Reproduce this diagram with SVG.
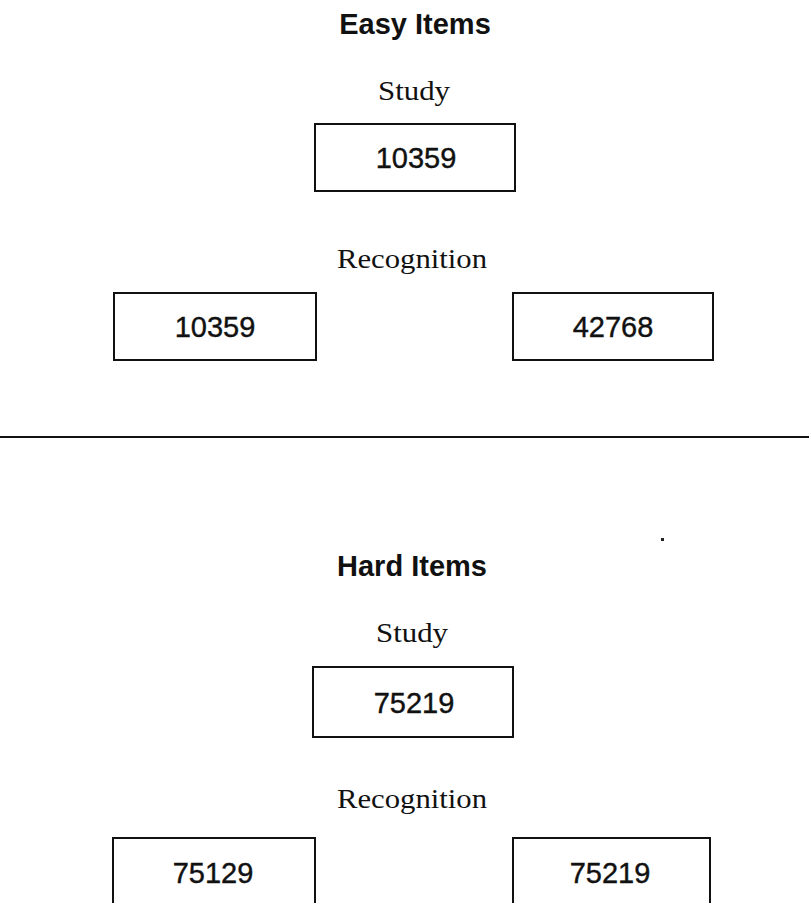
<svg xmlns="http://www.w3.org/2000/svg" width="809" height="903" viewBox="0 0 809 903">
<style>
.head{font-family:"Liberation Sans",Arial,sans-serif;font-weight:bold;font-size:29px;fill:#111;text-anchor:middle}
.lab{font-family:"Liberation Serif","Times New Roman",serif;font-size:27px;fill:#111;text-anchor:middle}
.num{font-family:"Liberation Sans",Arial,sans-serif;font-size:29px;fill:#111;stroke:#111;stroke-width:0.4;text-anchor:middle}
.box{fill:none;stroke:#111;stroke-width:2}
</style>
<rect width="809" height="903" fill="#fff"/>
<g id="easy">
<text class="head" x="415" y="34">Easy Items</text>
<text class="lab" x="414" y="100" textLength="72" lengthAdjust="spacingAndGlyphs">Study</text>
<g id="easy-study"><rect class="box" x="315" y="124" width="200" height="67"/><text class="num" x="416" y="168">10359</text></g>
<text class="lab" x="412" y="268" textLength="150" lengthAdjust="spacingAndGlyphs">Recognition</text>
<g id="easy-rec-old"><rect class="box" x="114" y="293" width="202" height="67"/><text class="num" x="215" y="337">10359</text></g>
<g id="easy-rec-new"><rect class="box" x="513" y="293" width="200" height="67"/><text class="num" x="613" y="337">42768</text></g>
</g>
<g id="divider"><line x1="0" y1="437" x2="809" y2="437" stroke="#111" stroke-width="2"/></g>
<rect x="661" y="538" width="3" height="3" fill="#222"/>
<g id="hard">
<text class="head" x="412" y="576">Hard Items</text>
<text class="lab" x="412" y="642" textLength="72" lengthAdjust="spacingAndGlyphs">Study</text>
<g id="hard-study"><rect class="box" x="313" y="667" width="200" height="70"/><text class="num" x="414" y="713">75219</text></g>
<text class="lab" x="412" y="808" textLength="150" lengthAdjust="spacingAndGlyphs">Recognition</text>
<g id="hard-rec-old"><rect class="box" x="113" y="838" width="202" height="80"/><text class="num" x="213" y="883">75129</text></g>
<g id="hard-rec-new"><rect class="box" x="513" y="838" width="197" height="80"/><text class="num" x="610" y="883">75219</text></g>
</g>
</svg>
